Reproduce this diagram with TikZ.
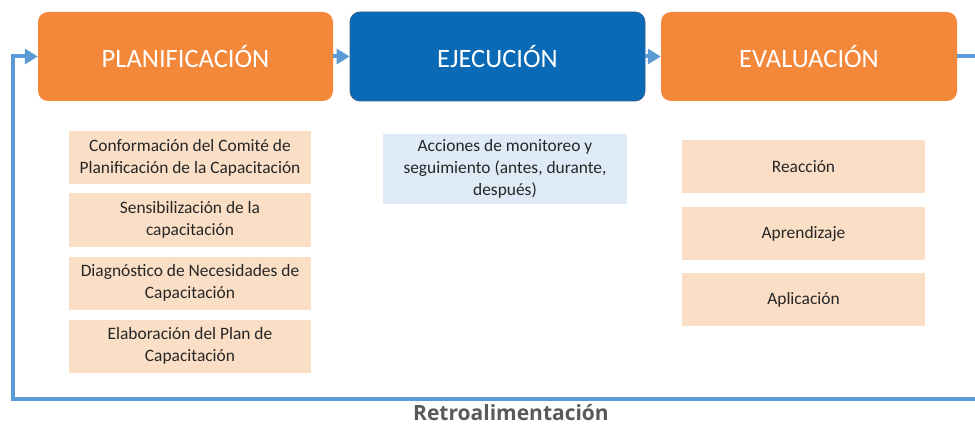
\documentclass[tikz,border=0pt]{standalone}
\usepackage{fontspec}
\setmainfont{Carlito}
\newfontfamily\retrofont{Open Sans}
\usetikzlibrary{arrows.meta}

\definecolor{stageorange}{HTML}{F4883A}
\definecolor{stageblue}{HTML}{0A6AB5}
\definecolor{stageblueline}{HTML}{2F5F8F}
\definecolor{taskpeach}{HTML}{FADFC6}
\definecolor{tasksky}{HTML}{DEEBF7}
\definecolor{flowblue}{HTML}{5B9BD5}
\definecolor{retrogray}{HTML}{595959}

\begin{document}
\begin{tikzpicture}[x=1pt,y=-1pt,
	stage node/.style={rounded corners=10pt,minimum height=89pt,inner sep=0pt,
		text=white,font=\fontsize{26.5}{30}\selectfont},
	task node/.style={fill=taskpeach,minimum width=242pt,minimum height=53pt,inner sep=0pt,
		align=center,text=black!85,font=\fontsize{17.4}{22}\selectfont},
	flow/.style={draw=flowblue,line width=4pt,-{Triangle[length=13pt,width=15pt]}}
]
	\useasboundingbox (0,0) rectangle (975,425);

	% etapas
	\node[stage node,fill=stageorange,minimum width=295pt] (plan) at (185.5,56.5) {PLANIFICACIÓN};
	\node[stage node,fill=stageblue,draw=stageblueline,line width=0.8pt,minimum width=295pt] (ejec) at (497.5,56.5) {EJECUCIÓN};
	\node[stage node,fill=stageorange,minimum width=296pt] (eval) at (809,56.5) {EVALUACIÓN};

	\draw[flow] (plan) -- (ejec);
	\draw[flow] (ejec) -- (eval);

	% planificacion
	\node[task node] (comite) at (190,157.5) {Conformación del Comité de\\Planificación de la Capacitación};
	\node[task node] (sensib) at (190,220) {Sensibilización de la\\capacitación};
	\node[task node] (diagn) at (190,283) {Diagnóstico de Necesidades de\\Capacitación};
	\node[task node] (plancap) at (190,346) {Elaboración del Plan de\\Capacitación};

	% ejecucion
	\node[task node,fill=tasksky,minimum width=244pt,minimum height=70pt] (monit) at (505,169)
		{Acciones de monitoreo y\\seguimiento (antes, durante,\\después)};

	% evaluacion
	\foreach \name/\txt/\y in {reac/Reacción/166.5,apren/Aprendizaje/233.5,aplic/Aplicación/299.5}
		\node[task node,minimum width=243pt] (\name) at (803.5,\y) {\txt};

	% retroalimentacion
	\draw[flow,rounded corners=0pt] (eval.east) -- (992,56.5) -- (992,399) -- (13,399) |- (plan.west);
	\node[font=\retrofont\bfseries\fontsize{21}{24}\selectfont,text=retrogray] (retro) at (511,413) {Retroalimentación};
\end{tikzpicture}
\end{document}
